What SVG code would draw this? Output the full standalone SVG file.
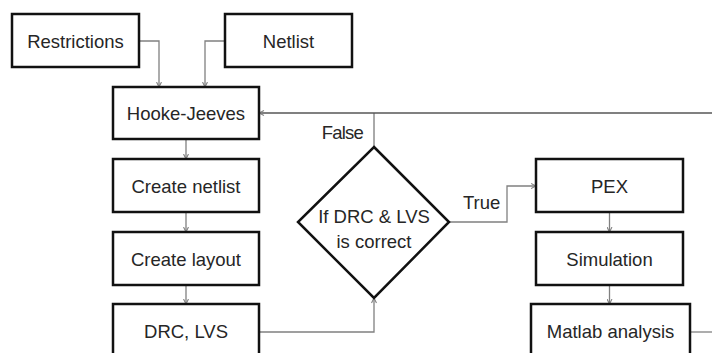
<svg xmlns="http://www.w3.org/2000/svg" width="712" height="353" viewBox="0 0 712 353">
<defs>
<marker id="arr" viewBox="0 0 10 10" refX="10" refY="5" markerWidth="5.5" markerHeight="6" markerUnits="userSpaceOnUse" orient="auto">
<path d="M1,0.5 L10,5 L1,9.5" fill="none" stroke="#808080" stroke-width="2"/>
</marker>
</defs>
<style>
.box{fill:#fff;stroke:#111;stroke-width:2.5}
.t{font-family:"Liberation Sans",Arial,sans-serif;font-size:18.5px;fill:#262626;text-anchor:middle}
.c{fill:none;stroke:#808080;stroke-width:1.3}
.a{marker-end:url(#arr)}
</style>
<rect width="712" height="353" fill="#fff"/>
<g id="connectors">
<path class="c a" d="M139,41 H159 V87"/>
<path class="c a" d="M225,41 H205 V87"/>
<path class="c a" d="M186,139 V159"/>
<path class="c a" d="M186,212 V232"/>
<path class="c a" d="M186,285 V304"/>
<path class="c a" d="M259,332 H374 V298"/>
<path class="c a" d="M712,113 H259" style="stroke-width:1.8"/>
<path class="c" d="M374,147 V113" style="stroke:#555;stroke-width:1"/>
<path class="c a" d="M449,222 H507 V186 H536"/>
<path class="c a" d="M609.5,212 V232"/>
<path class="c a" d="M609.5,285 V304"/>
<path class="c" d="M690,332 H712"/>
<text class="t" x="363" y="139" style="text-anchor:end;letter-spacing:-0.8px">False</text>
<text class="t" x="463" y="209" style="text-anchor:start">True</text>
</g>
<g id="restrictions"><rect class="box" x="12" y="14" width="127" height="53"/><text class="t" x="75.5" y="48">Restrictions</text></g>
<g id="netlist"><rect class="box" x="225" y="14" width="127" height="53"/><text class="t" x="288.5" y="48">Netlist</text></g>
<g id="hooke"><rect class="box" x="113" y="87" width="146" height="52"/><text class="t" x="186" y="120">Hooke-Jeeves</text></g>
<g id="create-netlist"><rect class="box" x="113" y="159" width="146" height="53"/><text class="t" x="186" y="193">Create netlist</text></g>
<g id="create-layout"><rect class="box" x="113" y="232" width="146" height="53"/><text class="t" x="186" y="266">Create layout</text></g>
<g id="drc-lvs"><rect class="box" x="113" y="304" width="146" height="53"/><text class="t" x="186" y="338">DRC, LVS</text></g>
<g id="decision"><polygon class="box" points="374,147 449,222 374,298 298,222"/><text class="t" x="374" y="223">If DRC &amp; LVS</text><text class="t" x="374" y="248">is correct</text></g>
<g id="pex"><rect class="box" x="536" y="159" width="147" height="53"/><text class="t" x="609.5" y="193">PEX</text></g>
<g id="simulation"><rect class="box" x="536" y="232" width="147" height="53"/><text class="t" x="609.5" y="266">Simulation</text></g>
<g id="matlab"><rect class="box" x="531" y="304" width="159" height="53"/><text class="t" x="610.5" y="338">Matlab analysis</text></g>
</svg>
